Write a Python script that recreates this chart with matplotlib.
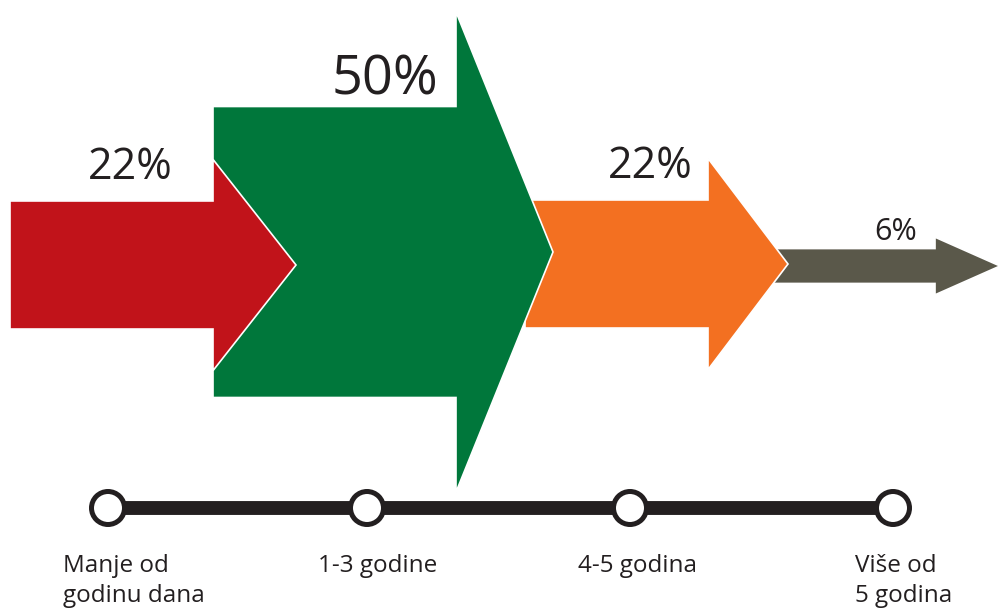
import numpy as np
import matplotlib.pyplot as plt
from matplotlib.patches import Polygon, Circle

plt.rcParams['font.family'] = ['Open Sans', 'DejaVu Sans']

# Share of each duration group (percent)
values = [22, 50, 22, 6]
labels = ['22%', '50%', '22%', '6%']
periods = ['Manje od\ngodinu dana', '1-3 godine', '4-5 godina', 'Više od\n5 godina']
colors = ['#C1131A', '#00773B', '#F37021', '#5A584A']

# Arrow geometry in pixel space: shaft start, head start, tip, centre line
shaft_x0 = [10, 213, 525, 771]
head_x0 = [213, 456, 708, 935]
tip_x = [296, 553, 788, 1000]
center_y = [265, 252, 264, 266]
px_per_pct = 5.82
head_ratio = 1.65
label_size = [31, 39, 31, 22]
label_right = [173, 438, 693, 917]
label_gap = [22, 12, 22, 9]

# Timeline
dot_x = [108, 367, 630, 893]
line_y = 508
text_x = [63, 318, 578, 855]

fig = plt.figure(figsize=(9.99, 6.08), dpi=100)
ax = fig.add_axes([0, 0, 1, 1])
ax.set_xlim(0, 999)
ax.set_ylim(608, 0)
ax.axis('off')

# draw back to front so each arrow's head overlaps the next one's tail
for i in reversed(range(len(values))):
    w = values[i] * px_per_pct / 2
    h = w * head_ratio
    cy = center_y[i]
    pts = [
        (shaft_x0[i], cy - w),
        (head_x0[i], cy - w),
        (head_x0[i], cy - h),
        (tip_x[i], cy),
        (head_x0[i], cy + h),
        (head_x0[i], cy + w),
        (shaft_x0[i], cy + w),
    ]
    ax.add_patch(Polygon(pts, closed=True, facecolor=colors[i],
                         edgecolor='white', linewidth=1.2, zorder=2 + (4 - i)))
    ax.text(label_right[i], cy - w - label_gap[i], labels[i],
            ha='right', va='baseline', fontsize=label_size[i], color='#231F20')

ax.plot([dot_x[0], dot_x[-1]], [line_y, line_y], color='#231F20',
        linewidth=10, solid_capstyle='butt', zorder=10)
for x, t, tx in zip(dot_x, periods, text_x):
    ax.add_patch(Circle((x, line_y), 16.5, facecolor='white', edgecolor='#231F20',
                        linewidth=3.6, zorder=11))
    for k, line in enumerate(t.split('\n')):
        ax.text(tx, 572 + 30 * k, line, ha='left', va='baseline', fontsize=17.5,
                color='#231F20')

fig.savefig('out.png', dpi=100)
